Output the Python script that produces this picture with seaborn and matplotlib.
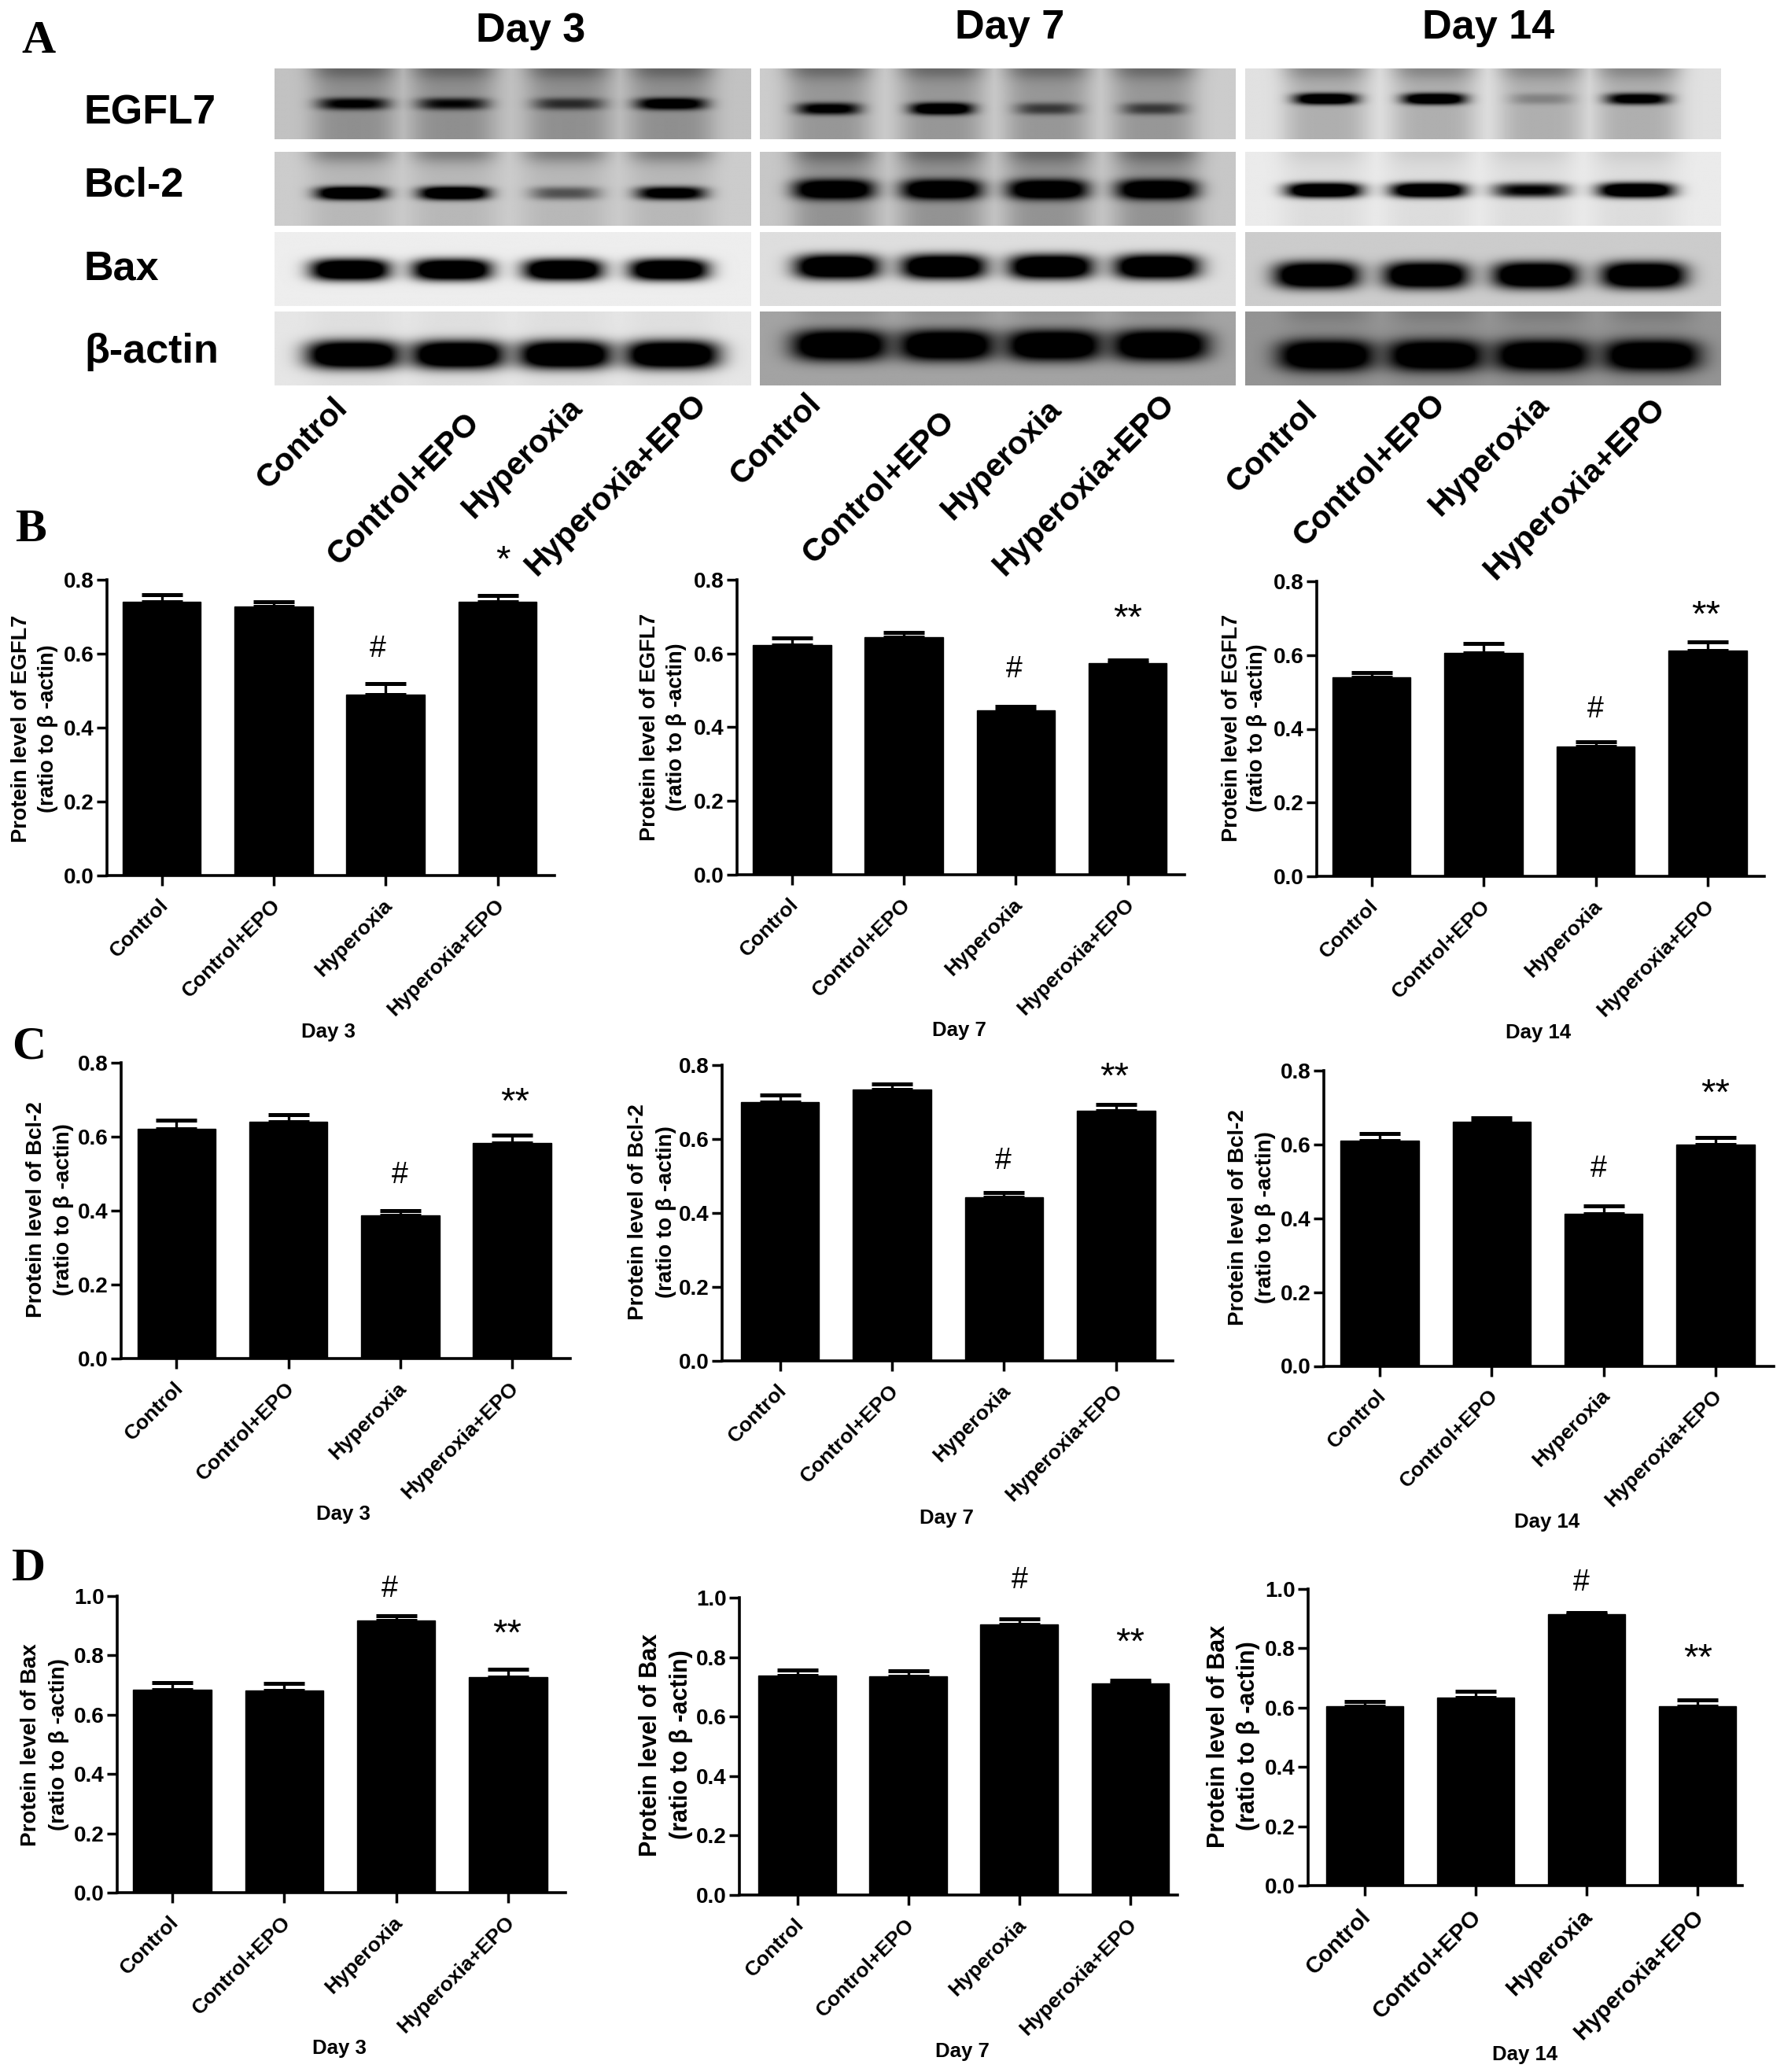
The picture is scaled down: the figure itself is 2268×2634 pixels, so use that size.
import numpy as np
import matplotlib
matplotlib.use("Agg")
import matplotlib.pyplot as plt
from matplotlib.transforms import ScaledTranslation
import seaborn as sns

W, H = 2268, 2634
GROUPS = ["Control", "Control+EPO", "Hyperoxia", "Hyperoxia+EPO"]
DAYS = ["Day 3", "Day 7", "Day 14"]
BLOT_ROWS = ["EGFL7", "Bcl-2", "Bax", "β-actin"]

# ---- bar values and upper error-bar ends ----
EGFL7_DAY3 = [0.740, 0.727, 0.490, 0.740]
EGFL7_DAY3_TOP = [0.760, 0.740, 0.520, 0.758]
EGFL7_DAY7 = [0.622, 0.645, 0.445, 0.573]
EGFL7_DAY7_TOP = [0.643, 0.657, 0.457, 0.583]
EGFL7_DAY14 = [0.540, 0.605, 0.352, 0.612]
EGFL7_DAY14_TOP = [0.553, 0.632, 0.365, 0.635]

BCL2_DAY3 = [0.622, 0.640, 0.388, 0.583]
BCL2_DAY3_TOP = [0.645, 0.660, 0.400, 0.604]
BCL2_DAY7 = [0.700, 0.735, 0.443, 0.677]
BCL2_DAY7_TOP = [0.720, 0.750, 0.456, 0.693]
BCL2_DAY14 = [0.610, 0.662, 0.413, 0.600]
BCL2_DAY14_TOP = [0.630, 0.673, 0.433, 0.618]

BAX_DAY3 = [0.685, 0.683, 0.917, 0.728]
BAX_DAY3_TOP = [0.708, 0.705, 0.935, 0.752]
BAX_DAY7 = [0.737, 0.735, 0.910, 0.712]
BAX_DAY7_TOP = [0.757, 0.753, 0.929, 0.723]
BAX_DAY14 = [0.604, 0.633, 0.916, 0.606]
BAX_DAY14_TOP = [0.622, 0.655, 0.921, 0.627]

# ---- blot appearance: one row per protein, one column per day ----
BLOT_BG = [[.76, .80, .88], [.80, .78, .92], [.93, .87, .80], [.90, .64, .58]]
BLOT_LANE = [[.26, .26, .22], [.10, .26, .06], [.0, .0, .0], [.03, .0, .05]]
BLOT_TOP_SMEAR = [[.22, .22, .18], [.28, .22, .06], [.0, .0, .0], [.0, .12, .12]]
BAND_DARK = [
    [[.70, .62, .45, .85], [.75, .95, .40, .40], [.95, .95, .16, .80]],
    [[1.0, 1.0, .35, .80], [1.0, 1.0, 1.0, 1.0], [1.0, 1.0, .65, 1.0]],
    [[1.0, 1.0, 1.0, 1.0], [1.0, 1.0, 1.0, 1.0], [1.0, 1.0, 1.0, 1.0]],
    [[1.0, 1.0, 1.0, 1.0], [1.0, 1.0, 1.0, 1.0], [1.0, 1.0, 1.0, 1.0]],
]
BAND_X = [
    [[.165, .374, .618, .833], [.144, .382, .605, .828], [.169, .397, .623, .825]],
    [[.160, .376, .610, .833], [.155, .382, .605, .835], [.165, .385, .600, .822]],
    [[.158, .372, .606, .828], [.162, .386, .612, .835], [.150, .380, .610, .838]],
    [[.165, .385, .610, .835], [.168, .392, .618, .842], [.170, .400, .625, .855]],
]
BAND_Y = [[.50, .57, .43], [.56, .51, .52], [.51, .47, .585], [.585, .457, .595]]
BAND_HALF_W = [[.072, .065, .065], [.072, .082, .078], [.082, .088, .088], [.097, .100, .100]]
BAND_HALF_H = [[.085, .085, .08], [.09, .135, .10], [.145, .165, .18], [.19, .21, .21]]
BLOT_COL_X = [(349, 954), (966, 1571), (1583, 2188)]
BLOT_ROW_Y = [(87, 177), (193, 287), (295, 389), (396, 490)]

sns.set_theme(style="ticks")
plt.rcParams["font.family"] = ["Liberation Sans", "DejaVu Sans"]
plt.rcParams["font.weight"] = "bold"
plt.rcParams["axes.labelweight"] = "bold"

fig = plt.figure(figsize=(W / 100, H / 100), dpi=100, facecolor="white")


def text_px(x, y, s, **kw):
    return fig.text(x / W, 1 - y / H, s, **kw)


def blot_image(r, c):
    yy, xx = np.mgrid[0:1:200j, 0:1:400j]
    lanes = np.zeros_like(xx)
    keep = np.ones_like(xx)
    for k in range(4):
        cx = BAND_X[r][c][k]
        lanes = np.maximum(lanes, np.exp(-np.abs((xx - cx) / .09) ** 4))
        d = (np.abs((xx - cx) / BAND_HALF_W[r][c]) ** 3.5
             + np.abs((yy - BAND_Y[r][c]) / BAND_HALF_H[r][c]) ** 2.6)
        band = np.clip(np.exp(-d) * BAND_DARK[r][c][k] * 1.6, 0, 1)
        keep = keep * (1 - band)
    smear = np.exp(-(yy / .16) ** 2)
    base = BLOT_BG[r][c] * (1 - lanes * (BLOT_LANE[r][c] + BLOT_TOP_SMEAR[r][c] * smear))
    return np.clip(base * keep, 0, 1)


for r, (y0, y1) in enumerate(BLOT_ROW_Y):
    for c, (x0, x1) in enumerate(BLOT_COL_X):
        ax = fig.add_axes([x0 / W, 1 - y1 / H, (x1 - x0) / W, (y1 - y0) / H])
        ax.imshow(blot_image(r, c), cmap="gray", vmin=0, vmax=1, aspect="auto")
        ax.axis("off")

for s, x, y in [("Day 3", 675, 40), ("Day 7", 1284, 36), ("Day 14", 1892, 36)]:
    text_px(x, y, s, fontsize=37.5, ha="center", va="center", color="black")
for s, y in zip(BLOT_ROWS, [157.5, 250, 356, 460.5]):
    text_px(107, y, s, fontsize=37.5, ha="left", va="baseline", color="black")

BLOT_LABEL_ENDS = [(449, 499), (617, 518), (747, 499), (905, 494),
                   (1051, 494), (1221, 516), (1356, 501), (1500, 494),
                   (1682, 504), (1845, 494), (1976, 496), (2124, 499)]
for i, (x, y) in enumerate(BLOT_LABEL_ENDS):
    text_px(x, y, GROUPS[i % 4], fontsize=29.5, rotation=45, ha="right", va="top", color="black")

# spine x, right end, y of top tick, y of zero, first and last bar centre (pixels)
PANELS = [
    ("EGFL7", EGFL7_DAY3, EGFL7_DAY3_TOP, 0.8, (136, 705, 737, 1113, 205.5, 632.5)),
    ("EGFL7", EGFL7_DAY7, EGFL7_DAY7_TOP, 0.8, (937, 1506, 737, 1112, 1007, 1433.5)),
    ("EGFL7", EGFL7_DAY14, EGFL7_DAY14_TOP, 0.8, (1674, 2243, 739, 1114, 1743.5, 2171)),
    ("Bcl-2", BCL2_DAY3, BCL2_DAY3_TOP, 0.8, (154, 725, 1351, 1727, 224.4, 651)),
    ("Bcl-2", BCL2_DAY7, BCL2_DAY7_TOP, 0.8, (918, 1491, 1354, 1730, 991.5, 1418.8)),
    ("Bcl-2", BCL2_DAY14, BCL2_DAY14_TOP, 0.8, (1683, 2255, 1361, 1736.5, 1754, 2181)),
    ("Bax", BAX_DAY3, BAX_DAY3_TOP, 1.0, (149, 719, 2029, 2406, 219, 646)),
    ("Bax", BAX_DAY7, BAX_DAY7_TOP, 1.0, (940, 1496.5, 2031, 2409, 1013.6, 1437)),
    ("Bax", BAX_DAY14, BAX_DAY14_TOP, 1.0, (1663, 2215, 2020, 2397, 1735, 2158)),
]
YLABEL_POS = [(27, 61, 926), (826, 860, 924), (1566, 1598, 925),
              (46, 81, 1538), (811, 847, 1541), (1574, 1609, 1548),
              (39, 75, 2218), (827, 866, 2218), (1549, 1587, 2207)]
YLABEL_SIZE = [19.5, 19.5, 19.5, 20, 20, 20, 20, 22, 22]
XTICK_SIZE = [19, 19, 19, 19, 19, 19, 19, 19, 21]
DAY_LABEL_POS = [(417, 1312), (1219, 1310), (1956, 1313),
                 (436, 1925), (1203, 1930), (1967, 1935),
                 (431, 2604), (1223, 2608), (1939, 2612)]
HASH_POS = [(480, 825), (1289, 851), (2028, 902),
            (508, 1494), (1275, 1476), (2032, 1486),
            (495, 2020), (1296, 2009), (2010, 2012)]
STAR_POS = [(639, 703), (1433.5, 777), (2169, 773),
            (655, 1392), (1417, 1360), (2181, 1381),
            (645, 2068), (1437, 2079), (2159, 2099)]
STAR_TEXT = ["*"] + ["**"] * 8

for i, (name, vals, tops, ymax, (xl, xr, yt, yb, c0, c3)) in enumerate(PANELS):
    ax = fig.add_axes([xl / W, 1 - yb / H, (xr - xl) / W, (yb - yt) / H])
    sns.barplot(x=GROUPS, y=vals, color="black", saturation=1, width=0.70,
                errorbar=None, edgecolor="black", linewidth=1, ax=ax)
    up = np.array(tops) - np.array(vals)
    ax.errorbar(range(4), vals, yerr=[np.zeros(4), up], fmt="none", ecolor="black",
                elinewidth=2.4, capsize=18.5, capthick=3.6, clip_on=False)
    s = (c3 - c0) / 3
    ax.set_xlim((xl - c0) / s, (xr - c0) / s)
    ax.set_ylim(0, ymax)
    ax.set_yticks(np.arange(0, ymax + .01, .2))
    ax.set_yticklabels([f"{v:.1f}" for v in np.arange(0, ymax + .01, .2)], fontsize=20, fontweight="bold")
    ax.set_xticks(range(4))
    ax.set_xticklabels(GROUPS, rotation=45, ha="right", va="top", fontsize=XTICK_SIZE[i], fontweight="bold")
    ax.tick_params(axis="both", length=9.4, width=2.5, color="black", labelcolor="black")
    ax.tick_params(axis="y", pad=2.5)
    ax.tick_params(axis="x", pad=9)
    off = ScaledTranslation(13 / 100, 0, fig.dpi_scale_trans)
    for lab in ax.get_xticklabels():
        lab.set_transform(lab.get_transform() + off)
    sns.despine(ax=ax)
    for sp in ("left", "bottom"):
        ax.spines[sp].set_linewidth(2.6)
        ax.spines[sp].set_color("black")
    ax.patch.set_alpha(0)
    x1, x2, yc = YLABEL_POS[i]
    size = YLABEL_SIZE[i]
    text_px(x1, yc, f"Protein level of {name}", rotation=90, fontsize=size, ha="center", va="center", color="black")
    text_px(x2, yc, "(ratio to β -actin)", rotation=90, fontsize=size, ha="center", va="center", color="black")
    dx, dy = DAY_LABEL_POS[i]
    text_px(dx, dy, DAYS[i % 3], fontsize=18.5, ha="center", va="center", color="black")
    hx, hy = HASH_POS[i]
    text_px(hx, hy, "#", fontsize=27, fontweight="normal", ha="center", va="center", color="black")
    sx, sy = STAR_POS[i]
    text_px(sx, sy + 11, STAR_TEXT[i], fontsize=34, fontweight="normal", ha="center", va="center", color="black")

for s, x, y in [("A", 49, 53), ("B", 39, 674), ("C", 37, 1331), ("D", 37, 1995)]:
    text_px(x, y, s, fontsize=43, family="Liberation Serif", fontweight="bold", ha="center", va="center", color="black")

fig.savefig("out.png", dpi=100, facecolor="white")
